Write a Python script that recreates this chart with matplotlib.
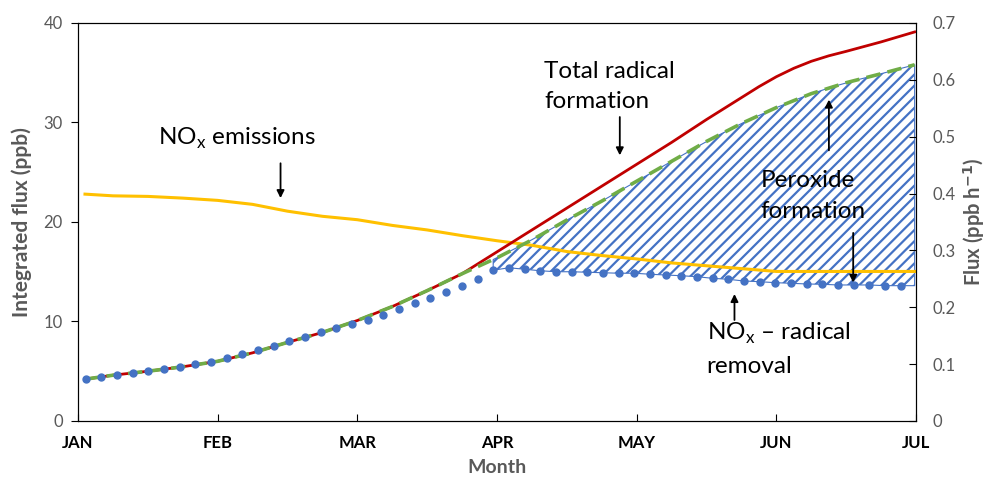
import numpy as np
from matplotlib import pyplot as plt

plt.rcParams['font.family'] = ['Lato', 'DejaVu Sans']
plt.rcParams['mathtext.fontset'] = 'custom'
plt.rcParams['mathtext.rm'] = 'Lato'
plt.rcParams['hatch.linewidth'] = 1.6

months = ['JAN', 'FEB', 'MAR', 'APR', 'MAY', 'JUN', 'JUL']

# x in months since Jan 1
t_red = [0.05, 0.25, 0.5, 0.75, 1.0, 1.25, 1.5, 1.75, 2.0, 2.25, 2.5, 2.75, 3.0,
         3.25, 3.5, 3.75, 4.0, 4.25, 4.5, 4.75, 4.875, 5.0, 5.125, 5.25, 5.375, 5.5,
         5.75, 5.99]
total_radical = [4.2, 4.6, 5.0, 5.45, 6.0, 6.85, 7.9, 8.9, 10.1, 11.5, 13.1, 14.8, 17.0,
                 19.2, 21.4, 23.6, 25.8, 28.0, 30.3, 32.5, 33.6, 34.6, 35.45, 36.15, 36.7,
                 37.15, 38.1, 39.1]

t_line = [0.05, 0.25, 0.5, 0.75, 1.0, 1.25, 1.5, 1.75, 2.0, 2.25, 2.5, 2.75, 3.0,
          3.25, 3.5, 3.75, 4.0, 4.25, 4.5, 4.75, 5.0, 5.25, 5.5, 5.75, 5.99]
peroxide_top = [4.2, 4.6, 5.0, 5.45, 6.0, 6.85, 7.9, 8.9, 10.1, 11.5, 13.1, 14.8, 16.4,
                18.2, 20.2, 22.1, 24.1, 26.1, 28.1, 29.9, 31.5, 32.9, 34.0, 34.9, 35.8]
# NOx emission flux, ppb h-1 (right axis)
nox_emis = [0.399, 0.396, 0.395, 0.392, 0.388, 0.381, 0.369, 0.360, 0.354, 0.344, 0.336,
            0.326, 0.317, 0.309, 0.298, 0.291, 0.285, 0.278, 0.273, 0.268, 0.263, 0.263,
            0.263, 0.263, 0.263]

# NOx - radical removal, half-weekly points
t_dot = np.linspace(0.055, 5.89, 53)
nox_removal = [4.22, 4.42, 4.62, 4.86, 5.06, 5.26, 5.46, 5.69, 5.96, 6.33, 6.73, 7.17, 7.57,
               8.04, 8.47, 8.94, 9.38, 9.78, 10.15, 10.65, 11.22, 11.83, 12.4, 12.96, 13.6,
               14.3, 15.15, 15.4, 15.25, 15.1, 15.0, 15.0, 14.95, 14.9, 14.85, 14.85, 14.75,
               14.67, 14.6, 14.5, 14.34, 14.24, 14.07, 14.0, 13.9, 13.84, 13.77, 13.74, 13.67,
               13.67, 13.67, 13.6, 13.6]

gray = '#595959'

fig = plt.figure(figsize=(9.9, 4.83), dpi=100)
ax = fig.add_axes([0.0788, 0.1284, 0.8465, 0.824])
ax2 = ax.twinx()

ax.set_xlim(0, 6)
ax.set_ylim(0, 40)
ax2.set_ylim(0, 0.7)

# hatched peroxide region between removal and top curve
fill_x = np.append(t_dot[26:], 5.99)
fill_lo = np.append(nox_removal[26:], nox_removal[-1])
fill_hi = np.interp(fill_x, t_line, peroxide_top)
ax.fill_between(fill_x, fill_lo, fill_hi, facecolor='white', edgecolor='#4472C4',
                hatch='///', linewidth=0.8, zorder=1)

ax.plot(t_line, nox_emis, color='#FFC000', lw=2.2, transform=ax2.transData, zorder=2)
ax.plot(t_red, total_radical, color='#C00000', lw=2.0, zorder=3)
ax.plot(t_line, peroxide_top, color='#70AD47', lw=2.6, dashes=(4, 2), zorder=4)
ax.plot(t_dot, nox_removal, 'o', color='#4472C4', ms=5, zorder=5)

ax.set_xticks(range(7))
ax.set_xticklabels(months, fontsize=12, fontweight='bold')
ax.tick_params(axis='x', direction='in', length=5, pad=10)
ax.set_yticks([0, 10, 20, 30, 40])
ax.tick_params(axis='y', direction='out', length=5, labelcolor=gray, labelsize=12, pad=6)
ax2.set_yticks([0, 0.1, 0.2, 0.3, 0.4, 0.5, 0.6, 0.7])
ax2.set_yticklabels(['0', '0.1', '0.2', '0.3', '0.4', '0.5', '0.6', '0.7'])
ax2.tick_params(axis='y', direction='in', length=5, labelcolor=gray, labelsize=12, pad=12)

ax.set_xlabel('Month', color=gray, fontsize=14, fontweight='bold', labelpad=6)
ax.set_ylabel('Integrated flux (ppb)', color=gray, fontsize=15, fontweight='bold', labelpad=8)
ax2.set_ylabel('Flux (ppb h$^{\\mathbf{-1}}$)', color=gray, fontsize=14.5, fontweight='bold',
               labelpad=4)

arrow = dict(arrowstyle='-|>', color='black', lw=1.3, mutation_scale=11, shrinkA=0, shrinkB=0)
fs = 17.5
ls = 1.55

ax.text(0.571, 28.4, 'NO$_\\mathregular{x}$ emissions', fontsize=fs, va='center', ha='left')
ax.annotate('', xy=(1.45, 22.4), xytext=(1.45, 25.9), arrowprops=arrow)

ax.text(3.336, 33.6, 'Total radical\nformation', fontsize=fs, va='center', ha='left',
        linespacing=ls)
ax.annotate('', xy=(3.879, 26.7), xytext=(3.879, 30.55), arrowprops=arrow)

ax.text(4.886, 22.6, 'Peroxide\nformation', fontsize=fs, va='center', ha='left',
        linespacing=ls, zorder=6)
ax.annotate('', xy=(5.376, 32.3), xytext=(5.376, 27.2), arrowprops=arrow)
ax.annotate('', xy=(5.55, 13.9), xytext=(5.55, 18.9), arrowprops=arrow)

ax.text(4.5, 7.24, 'NO$_\\mathregular{x}$ – radical\nremoval', fontsize=fs, va='center',
        ha='left', linespacing=ls)
ax.annotate('', xy=(4.70, 12.76), xytext=(4.70, 10.15), arrowprops=arrow)

plt.savefig('out.png', dpi=100)
